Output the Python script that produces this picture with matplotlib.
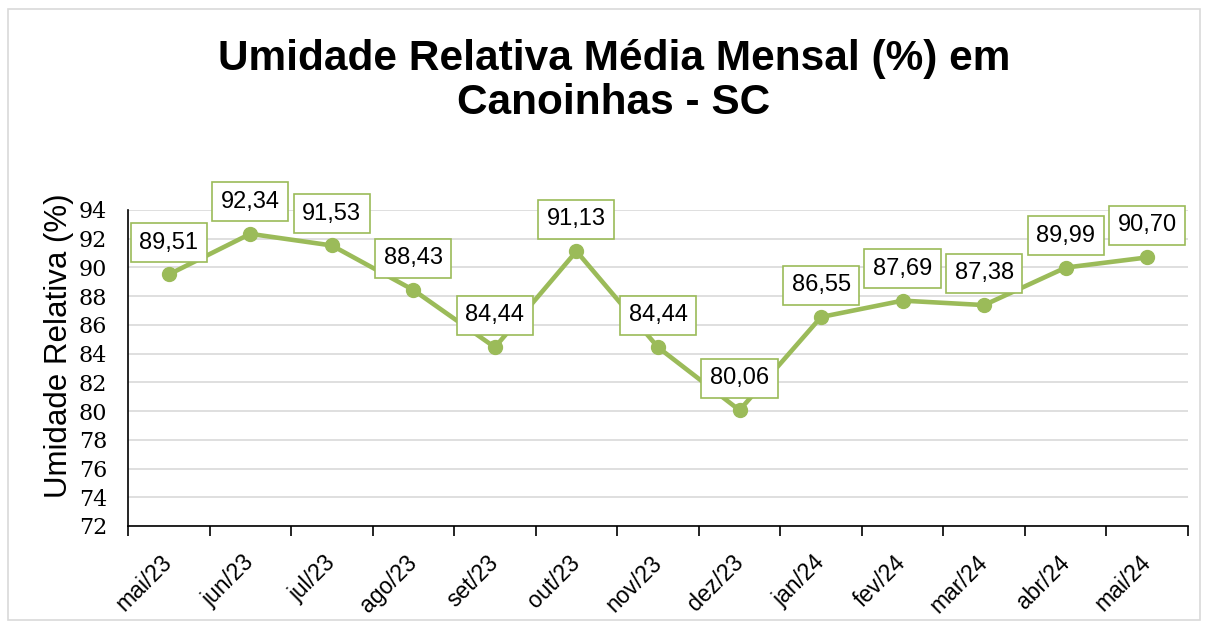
import matplotlib
matplotlib.use("Agg")
import matplotlib.pyplot as plt
from matplotlib.patches import Rectangle

months = ["mai/23", "jun/23", "jul/23", "ago/23", "set/23", "out/23", "nov/23",
          "dez/23", "jan/24", "fev/24", "mar/24", "abr/24", "mai/24"]
umidade = [89.51, 92.34, 91.53, 88.43, 84.44, 91.13, 84.44,
           80.06, 86.55, 87.69, 87.38, 89.99, 90.70]
yticks = list(range(72, 95, 2))

green = "#9BBB59"
fig = plt.figure(figsize=(12.07, 6.23), dpi=100)
fig.patches.append(Rectangle((8/1207, 3/623), 1192/1207, 611/623, transform=fig.transFigure,
                             fill=False, edgecolor="#d9d9d9", linewidth=1.2))
ax = fig.add_axes([128/1207, 1-526/623, (1188-128)/1207, (526-210)/623])

x = list(range(len(months)))
ax.plot(x, umidade, color=green, linewidth=3.3, marker="o", markersize=10,
        solid_capstyle="round", zorder=3)

for xi, v in zip(x, umidade):
    ax.annotate(f"{v:.2f}".replace(".", ","), (xi, v), xytext=(0, 23),
                textcoords="offset points", ha="center", va="center",
                fontsize=17, family="Liberation Sans",
                bbox=dict(boxstyle="square,pad=0.36", fc="white", ec=green, lw=1.2),
                zorder=4)

ax.set_xlim(-0.5, len(months) - 0.5)
ax.set_ylim(72, 94)
ax.set_yticks(yticks)
ax.set_yticklabels([str(t) for t in yticks], family="DejaVu Serif", fontsize=16)
ax.tick_params(axis="y", length=0, pad=15)
ax.set_xticks([i - 0.5 for i in range(len(months) + 1)])
ax.set_xticklabels([])
ax.set_xticks(x, minor=True)
ax.set_xticklabels(months, minor=True, rotation=45, ha="right", va="center",
                   rotation_mode="anchor", family="Liberation Sans", fontsize=16.5)
ax.tick_params(axis="x", which="major", length=7, width=1.2, direction="out")
ax.tick_params(axis="x", which="minor", length=0, pad=24)
ax.grid(axis="y", color="#d9d9d9", linewidth=1.2)
ax.set_axisbelow(True)
for s in ["top", "right"]:
    ax.spines[s].set_visible(False)
for s in ["left", "bottom"]:
    ax.spines[s].set_linewidth(1.2)
    ax.spines[s].set_color("black")
ax.set_ylabel("Umidade Relativa (%)", family="Liberation Sans", fontsize=22.5)
ax.yaxis.set_label_coords(-54/1060, (526-346)/316)

fig.text(614/1207, 1-81/623, "Umidade Relativa Média Mensal (%) em\nCanoinhas - SC",
         ha="center", va="center", family="Liberation Sans", fontweight="bold",
         fontsize=30.5, linespacing=1.12)

fig.savefig("out.png", dpi=100)
